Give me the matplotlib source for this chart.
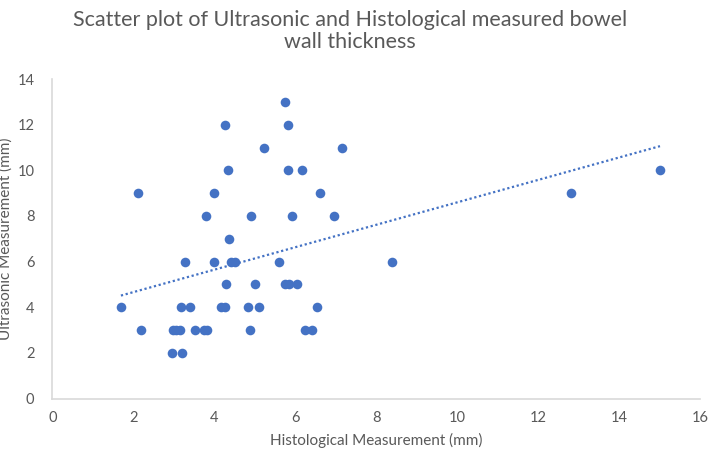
import numpy as np
import matplotlib
matplotlib.use("Agg")
import matplotlib.pyplot as plt

# Histological (x) vs Ultrasonic (y) bowel wall thickness, mm
histo = [2.10, 4.25, 5.73, 5.82, 5.23, 7.14, 4.33, 5.82, 6.15, 4.00,
         6.61, 3.80, 4.91, 5.91, 6.94, 4.36,
         3.26, 4.00, 4.40, 4.50, 5.59, 8.38,
         4.29, 4.99, 5.73, 5.85, 6.04,
         1.69, 3.17, 3.39, 4.17, 4.27, 4.82, 5.09, 6.53,
         2.19, 2.98, 3.06, 3.16, 3.51, 3.73, 3.81, 4.88, 6.24, 6.41,
         2.94, 3.21,
         12.80, 15.00]
ultra = [9, 12, 13, 12, 11, 11, 10, 10, 10, 9,
         9, 8, 8, 8, 8, 7,
         6, 6, 6, 6, 6, 6,
         5, 5, 5, 5, 5,
         4, 4, 4, 4, 4, 4, 4, 4,
         3, 3, 3, 3, 3, 3, 3, 3, 3, 3,
         2, 2,
         9, 10]

# linear trendline as shown in the chart
trend_slope = 0.492
trend_intercept = 3.68

plt.rcParams['font.family'] = ['Lato', 'DejaVu Sans']
blue = '#4472C4'
grey = '#595959'

fig = plt.figure(figsize=(7.09, 4.57), dpi=100)
ax = fig.add_axes([0.074, 0.128, 0.914, 0.699])

ax.scatter(histo, ultra, s=48, color=blue, zorder=3, linewidths=0)

xs = np.array([min(histo), max(histo)])
ax.plot(xs, trend_slope * xs + trend_intercept, color=blue,
        linestyle=(0, (1, 1.2)), linewidth=1.6, zorder=2)

ax.set_xlim(0, 16)
ax.set_ylim(0, 14)
ax.set_xticks(range(0, 17, 2))
ax.set_yticks(range(0, 15, 2))
for s in ['top', 'right']:
    ax.spines[s].set_visible(False)
for s in ['left', 'bottom']:
    ax.spines[s].set_color('#D9D9D9')
    ax.spines[s].set_linewidth(1.2)
ax.tick_params(length=0, colors=grey, labelsize=10.5, pad=9)
ax.tick_params(axis='y', pad=13)

ax.set_xlabel('Histological Measurement (mm)', fontsize=11, color=grey, labelpad=6)
ax.set_ylabel('Ultrasonic Measurement (mm)', fontsize=11, color=grey)
ax.yaxis.set_label_coords(-0.061, 0.5)

fig.text(0.494, 0.978, 'Scatter plot of Ultrasonic and Histological measured bowel\nwall thickness',
         ha='center', va='top', fontsize=15.5, color=grey, linespacing=1.1)

fig.savefig('out.png', dpi=100)
